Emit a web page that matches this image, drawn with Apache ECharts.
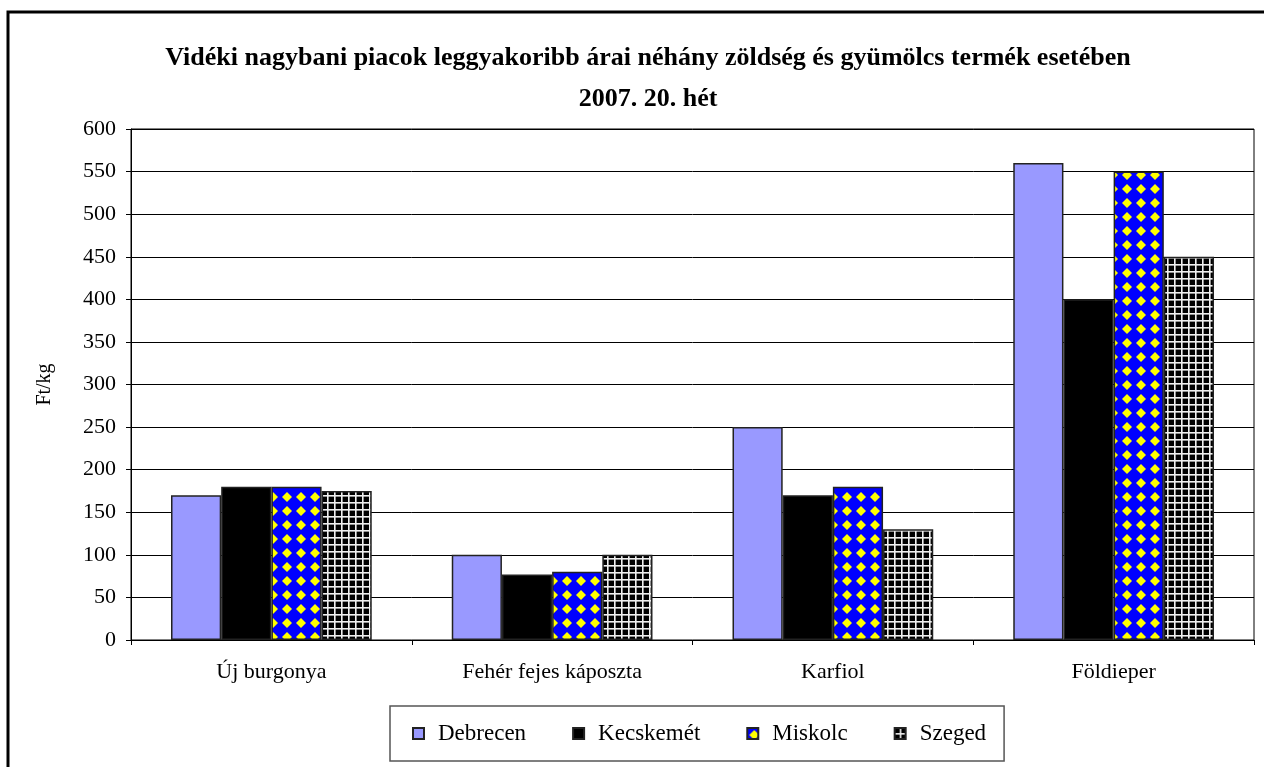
<!DOCTYPE html>
<html>
<head>
<meta charset="utf-8">
<script src="https://cdn.jsdelivr.net/npm/echarts@6/dist/echarts.min.js"></script>
<style>
  html, body { margin: 0; padding: 0; background: #fff; }
  #main { width: 1264px; height: 767px; }
</style>
</head>
<body>
<div id="main"></div>
<script>
var categories = ['Új burgonya', 'Fehér fejes káposzta', 'Karfiol', 'Földieper'];
var debrecen = [170, 100, 250, 560];
var kecskemet = [180, 77, 170, 400];
var miskolc = [180, 80, 180, 550];
var szeged = [175, 100, 130, 450];
var yTicks = [0, 50, 100, 150, 200, 250, 300, 350, 400, 450, 500, 550, 600];

// kék alapon sárga rombuszok
function diamondPattern() {
    var c = document.createElement('canvas');
    c.width = 14; c.height = 14;
    var ctx = c.getContext('2d');
    ctx.fillStyle = '#0000ff';
    ctx.fillRect(0, 0, 14, 14);
    ctx.fillStyle = '#ffff00';
    ctx.beginPath();
    ctx.moveTo(7, 2); ctx.lineTo(12, 7); ctx.lineTo(7, 12); ctx.lineTo(2, 7);
    ctx.closePath();
    ctx.fill();
    return c;
}

// fekete alapon fehér rács
function gridPattern() {
    var c = document.createElement('canvas');
    c.width = 7; c.height = 7;
    var ctx = c.getContext('2d');
    ctx.fillStyle = '#000';
    ctx.fillRect(0, 0, 7, 7);
    ctx.fillStyle = '#f0f0f0';
    ctx.fillRect(5, 0, 1.6, 7);
    ctx.fillRect(0, 5, 7, 1.6);
    return c;
}

var chart = echarts.init(document.getElementById('main'));
var font = '"Liberation Serif", "Times New Roman", serif';
var border = { borderColor: '#222', borderWidth: 1.5 };

var option = {
    backgroundColor: '#fff',
    animation: false,
    title: {
        text: 'Vidéki nagybani piacok leggyakoribb árai néhány zöldség és gyümölcs termék esetében\n2007. 20. hét',
        left: 643,
        top: 33,
        textAlign: 'center',
        textStyle: {
            fontFamily: font,
            fontWeight: 'bold',
            fontSize: 26,
            lineHeight: 41,
            color: '#000'
        }
    },
    graphic: [{
        type: 'rect',
        shape: { x: 8, y: 12, width: 1300, height: 800 },
        style: { fill: null, stroke: '#000', lineWidth: 3 },
        silent: true
    }],
    legend: {
        left: 390,
        top: 706,
        padding: [16, 18, 16, 22],
        itemGap: 46,
        itemWidth: 11,
        itemHeight: 11,
        borderColor: '#555',
        borderWidth: 1.5,
        icon: 'rect',
        textStyle: { fontFamily: font, fontSize: 23, color: '#000', padding: [0, 0, 0, 9] },
        data: ['Debrecen', 'Kecskemét', 'Miskolc', 'Szeged']
    },
    grid: {
        left: 131,
        right: 10,
        top: 129,
        bottom: 127,
        show: true,
        borderColor: '#000',
        borderWidth: 1
    },
    xAxis: {
        type: 'category',
        data: categories,
        axisLine: { lineStyle: { color: '#000', width: 1 } },
        axisTick: { show: true, length: 5, lineStyle: { color: '#000' } },
        axisLabel: { fontFamily: font, fontSize: 22, color: '#000', margin: 21 }
    },
    yAxis: {
        type: 'value',
        min: yTicks[0],
        max: yTicks[yTicks.length - 1],
        interval: 50,
        name: 'Ft/kg',
        nameLocation: 'middle',
        nameGap: 76,
        nameTextStyle: { fontFamily: font, fontSize: 20, color: '#000' },
        axisLine: { show: true, lineStyle: { color: '#000', width: 1 } },
        axisTick: { show: true, length: 5, lineStyle: { color: '#000' } },
        axisLabel: { fontFamily: font, fontSize: 22, color: '#000', margin: 15 },
        splitLine: { lineStyle: { color: '#000', width: 1 } }
    },
    series: [
        {
            name: 'Debrecen', type: 'bar', data: debrecen,
            barGap: '0%', barCategoryGap: '28.5%',
            itemStyle: Object.assign({ color: '#9999ff' }, border)
        },
        {
            name: 'Kecskemét', type: 'bar', data: kecskemet,
            itemStyle: Object.assign({ color: '#000000' }, border)
        },
        {
            name: 'Miskolc', type: 'bar', data: miskolc,
            itemStyle: Object.assign({ color: { image: diamondPattern(), repeat: 'repeat' } }, border)
        },
        {
            name: 'Szeged', type: 'bar', data: szeged,
            itemStyle: Object.assign({ color: { image: gridPattern(), repeat: 'repeat' } }, border)
        }
    ]
};

chart.setOption(option);
</script>
</body>
</html>
